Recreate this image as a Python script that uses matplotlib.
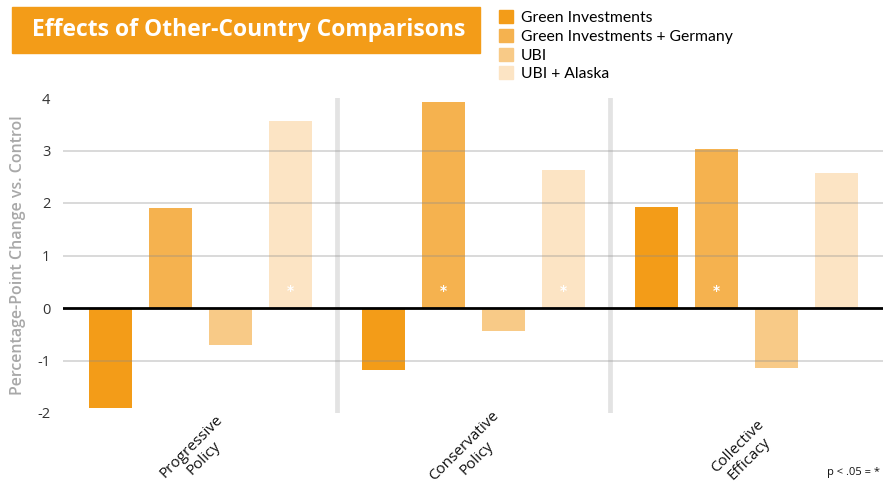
import numpy as np
import matplotlib
matplotlib.use("Agg")
import matplotlib.pyplot as plt
from matplotlib.patches import Patch, Rectangle
from matplotlib.transforms import blended_transform_factory

title = "Effects of Other-Country Comparisons"
groups = ["Progressive\nPolicy", "Conservative\nPolicy", "Collective\nEfficacy"]
series = ["Green Investments", "Green Investments + Germany", "UBI", "UBI + Alaska"]
colors = ["#F39C18", "#F5B24F", "#F8CA87", "#FCE4C4"]

# values per series, one entry per group
green = [-1.90, -1.19, 1.93]
green_germany = [1.90, 3.93, 3.03]
ubi = [-0.70, -0.44, -1.15]
ubi_alaska = [3.57, 2.63, 2.58]
values = [green, green_germany, ubi, ubi_alaska]

# significant bars (series index, group index)
signif = [(3, 0), (1, 1), (3, 1), (1, 2)]

yticks = [-2, -1, 0, 1, 2, 3, 4]

group_step = 4.55
bar_w = 0.72

fig = plt.figure(figsize=(8.86, 4.93), dpi=100)
ax = fig.add_axes([63 / 886, 1 - 413 / 493, 820 / 886, 315 / 493])

for s, vals in enumerate(values):
    xs = np.arange(len(groups)) * group_step + s
    ax.bar(xs, vals, width=bar_w, color=colors[s], zorder=2)

for s, g in signif:
    ax.text(g * group_step + s, 0.33, "*", color="white", ha="center",
            va="center", fontsize=10, fontweight="bold", zorder=5)

for y in yticks[1:-1]:
    if y == 0:
        continue
    ax.axhline(y, color="#8c8c8c", alpha=0.38, lw=1.2, zorder=3)
ax.axhline(0, color="black", lw=2, zorder=4)

sep_x = [3.775, 3.775 + group_step]
for x in sep_x:
    ax.axvline(x, color="#e3e3e3", lw=3.4, zorder=1)

ax.set_xlim(-0.79, 2 * group_step + 3.775)
ax.set_ylim(-2, 4)
ax.set_yticks(yticks)
ax.set_yticklabels([str(t) for t in yticks], fontsize=10.5, color="#333333",
                   family="Open Sans")
ax.tick_params(axis="y", length=0, pad=9)
ax.set_xticks([])
for sp in ax.spines.values():
    sp.set_visible(False)

ax.set_ylabel("Percentage-Point Change vs. Control", fontsize=11.5,
              color="#a8a8a8", family="Open Sans", fontweight="semibold",
              labelpad=8)

# group labels, placed in figure coords below the axes
tr = blended_transform_factory(ax.transData, ax.transAxes)
to_fig = tr + fig.transFigure.inverted()
for g, name in enumerate(groups):
    fx, fy = to_fig.transform((g * group_step + 1.5 - 0.05, -0.125))
    fig.text(fx, fy, name, rotation=45,
             ha="center", va="center", multialignment="center",
             fontsize=11, family="Open Sans", color="#111111")

fig.text(880 / 886, 1 - 472 / 493, "p < .05 = *", ha="right", va="center",
         fontsize=8, family="Open Sans", color="#111111")

# title banner
fig.patches.append(Rectangle((12 / 886, 1 - 53 / 493), 468 / 886, 46 / 493,
                             transform=fig.transFigure, color=colors[0]))
fig.text(249 / 886, 1 - 30 / 493, title, ha="center", va="center",
         fontsize=16.5, fontweight="bold", color="white", family="Open Sans")

handles = [Patch(color=c) for c in colors]
fig.legend(handles, series, loc="upper left",
           bbox_to_anchor=(493 / 886, 1 - 4 / 493), frameon=False,
           prop={"family": "Lato", "size": 11.3}, handlelength=0.9,
           handleheight=0.9, handletextpad=0.5, labelspacing=0.24,
           borderaxespad=0)

fig.savefig("out.png", dpi=100)
